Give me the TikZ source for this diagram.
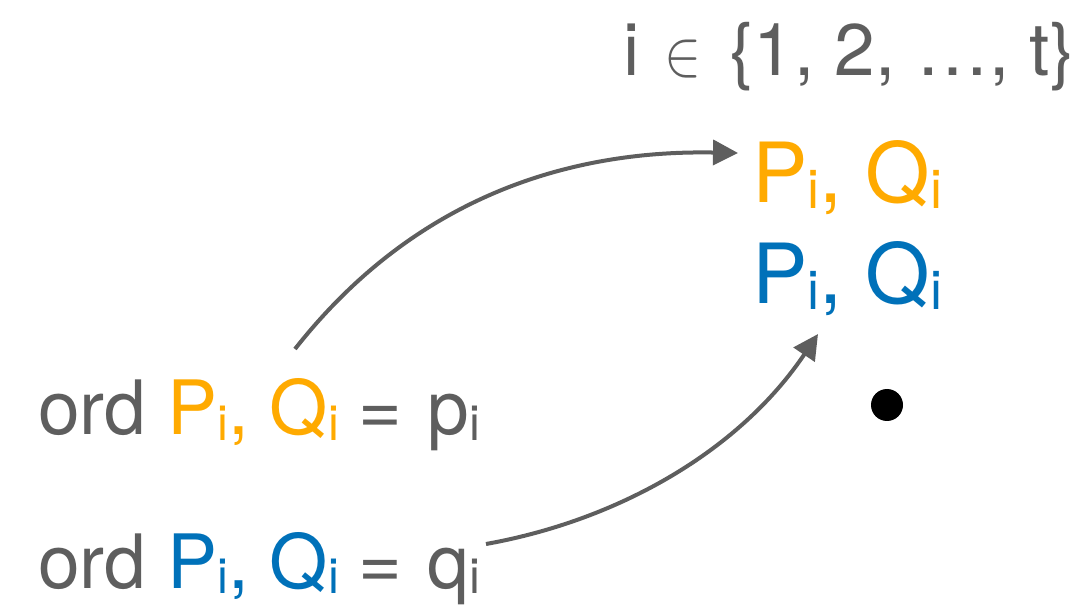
\documentclass[tikz,border=0pt]{standalone}
\usepackage{fontspec}
\usepackage{graphicx}
\setmainfont{TeX Gyre Heros}
\usetikzlibrary{arrows.meta}
\definecolor{txtgray}{HTML}{5E5E5E}
\definecolor{orng}{HTML}{FFAA00}
\definecolor{blu}{HTML}{0071B9}
\newcommand\subI{\raisebox{-0.07em}{\scalebox{0.65}{i}}}
\newcommand\bigIn{\resizebox*{37pt}{38pt}{$\in$}}
\newcommand\eqsp{\hspace{19pt}=\hspace{26pt}}
\begin{document}
\begin{tikzpicture}[x=1pt,y=-1pt,
  lbl/.style={inner sep=0pt, anchor=base west, text=txtgray},
  conn/.style={draw=txtgray, line width=4pt, -{Triangle[length=25pt,width=25pt]}}]
\useasboundingbox (0,0) rectangle (1090,609);
\node[lbl, font=\fontsize{73}{80}\selectfont] (range) at (623,76) {i\hspace{25pt}\bigIn\hspace{28pt}\{1, 2, \dots, t\}};
\node[lbl, font=\fontsize{83}{95}\selectfont, text=orng] (pqo) at (752,203) {P\subI, Q\subI};
\node[lbl, font=\fontsize{83}{95}\selectfont, text=blu] (pqb) at (752,304) {P\subI, Q\subI};
\node[circle, fill=black, inner sep=0pt, minimum size=32pt] (dot) at (887,405) {};
\node[lbl, font=\fontsize{75}{85}\selectfont] (ordp) at (38,435) {ord {\color{orng}P\subI, Q\subI}\eqsp p\subI};
\node[lbl, font=\fontsize{75}{85}\selectfont] (ordq) at (38,588) {ord {\color{blu}P\subI, Q\subI}\eqsp q\subI};
\coordinate (s1) at (295,349);
\coordinate (e1) at (738,153);
\coordinate (s2) at (486,544);
\coordinate (e2) at (818,334);
\draw[conn] (s1) .. controls (420,190) and (580,150) .. (e1);
\draw[conn] (s2) .. controls (620,520) and (740,450) .. (e2);
\end{tikzpicture}
\end{document}
